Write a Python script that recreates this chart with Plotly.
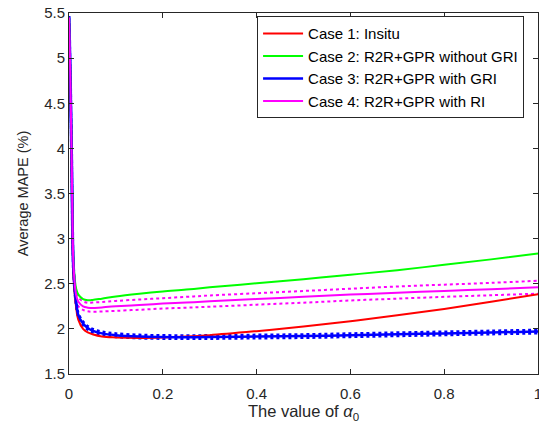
import plotly.graph_objects as go

x = [0, 0.002, 0.004, 0.006, 0.008, 0.01, 0.015, 0.02, 0.03, 0.04, 0.05, 0.07,
     0.1, 0.15, 0.2, 0.25, 0.3, 0.4, 0.5, 0.6, 0.7, 0.8, 0.9, 1.0]

case1 = [5.45, 5.0, 4.4, 3.7, 2.9, 2.55, 2.25, 2.1, 2.0, 1.96, 1.94, 1.915,
         1.905, 1.90, 1.905, 1.915, 1.93, 1.975, 2.025, 2.085, 2.15, 2.22, 2.30, 2.385]
case2 = [5.45, 5.0, 4.45, 3.8, 3.05, 2.7, 2.45, 2.38, 2.33, 2.318, 2.32, 2.335,
         2.36, 2.39, 2.415, 2.435, 2.46, 2.505, 2.55, 2.6, 2.65, 2.71, 2.77, 2.835]
case3 = [5.45, 5.0, 4.42, 3.75, 2.95, 2.62, 2.3, 2.15, 2.06, 2.01, 1.98, 1.95,
         1.93, 1.915, 1.91, 1.908, 1.91, 1.915, 1.92, 1.93, 1.94, 1.95, 1.96, 1.97]
case3_up = [v + 0.016 for v in case3]
case3_lo = [v - 0.016 for v in case3]
case4 = [5.45, 5.0, 4.43, 3.78, 3.0, 2.66, 2.38, 2.3, 2.25, 2.235, 2.23, 2.238,
         2.25, 2.265, 2.28, 2.292, 2.305, 2.33, 2.355, 2.38, 2.40, 2.42, 2.44, 2.46]
case4_up = [5.45, 5.0, 4.44, 3.8, 3.03, 2.7, 2.43, 2.35, 2.305, 2.29, 2.292, 2.298,
            2.31, 2.325, 2.34, 2.355, 2.37, 2.395, 2.42, 2.445, 2.47, 2.49, 2.51, 2.533]
case4_lo = [5.45, 5.0, 4.42, 3.76, 2.97, 2.62, 2.33, 2.25, 2.21, 2.195, 2.19, 2.193,
            2.20, 2.212, 2.225, 2.235, 2.245, 2.268, 2.29, 2.315, 2.335, 2.355, 2.373, 2.39]

names = ["Case 1: Insitu", "Case 2: R2R+GPR without GRI",
         "Case 3: R2R+GPR with GRI", "Case 4: R2R+GPR with RI"]

fig = go.Figure()
fig.add_trace(go.Scatter(x=x, y=case4_up, mode="lines", showlegend=False,
                         line=dict(color="#ff00ff", width=2, dash="dot", shape="spline")))
fig.add_trace(go.Scatter(x=x, y=case4_lo, mode="lines", showlegend=False,
                         line=dict(color="#ff00ff", width=2, dash="dot", shape="spline")))
fig.add_trace(go.Scatter(x=x, y=case3_up, mode="lines", showlegend=False,
                         line=dict(color="#0000ff", width=3, dash="dot", shape="spline")))
fig.add_trace(go.Scatter(x=x, y=case3_lo, mode="lines", showlegend=False,
                         line=dict(color="#0000ff", width=3, dash="dot", shape="spline")))
fig.add_trace(go.Scatter(x=x, y=case1, mode="lines", name=names[0],
                         line=dict(color="#ff0000", width=2, shape="spline")))
fig.add_trace(go.Scatter(x=x, y=case2, mode="lines", name=names[1],
                         line=dict(color="#00ff00", width=2, shape="spline")))
fig.add_trace(go.Scatter(x=x, y=case3, mode="lines", name=names[2],
                         line=dict(color="#0000ff", width=2.5, shape="spline")))
fig.add_trace(go.Scatter(x=x, y=case4, mode="lines", name=names[3],
                         line=dict(color="#ff00ff", width=2, shape="spline")))

axis_common = dict(showline=True, linecolor="#262626", linewidth=1, mirror="ticks",
                   ticks="inside", ticklen=5, tickcolor="#262626", showgrid=False,
                   zeroline=False, ticklabeloverflow="allow", automargin=False,
                   tickfont=dict(family="Liberation Sans, Arial", size=15, color="#262626"))

fig.update_layout(
    width=539, height=434,
    margin=dict(l=69, r=1, t=13, b=60),
    paper_bgcolor="white", plot_bgcolor="white",
    font=dict(family="Liberation Sans, Arial", size=14, color="#262626"),
    xaxis=dict(range=[0, 1], tickvals=[0, 0.2, 0.4, 0.6, 0.8, 1],
               ticktext=["0", "0.2", "0.4", "0.6", "0.8", "1"],
               ticklabelstandoff=6,
               title=dict(text="The value of <i>α</i><sub>0</sub>", standoff=4,
                          font=dict(size=16.5, color="#262626")),
               **axis_common),
    yaxis=dict(range=[1.5, 5.5], tickvals=[1.5, 2, 2.5, 3, 3.5, 4, 4.5, 5, 5.5],
               ticktext=["1.5", "2", "2.5", "3", "3.5", "4", "4.5", "5", "5.5"],
               title=dict(text="Average MAPE (%)", standoff=12,
                          font=dict(size=14.5, color="#262626")),
               **axis_common),
    legend=dict(x=0.401, y=0.991, xanchor="left", yanchor="top",
                bgcolor="white", bordercolor="#262626", borderwidth=1,
                font=dict(family="Liberation Sans, Arial", size=15, color="#000000"),
                tracegroupgap=0, itemwidth=40),
)

fig.write_html("out.html")
